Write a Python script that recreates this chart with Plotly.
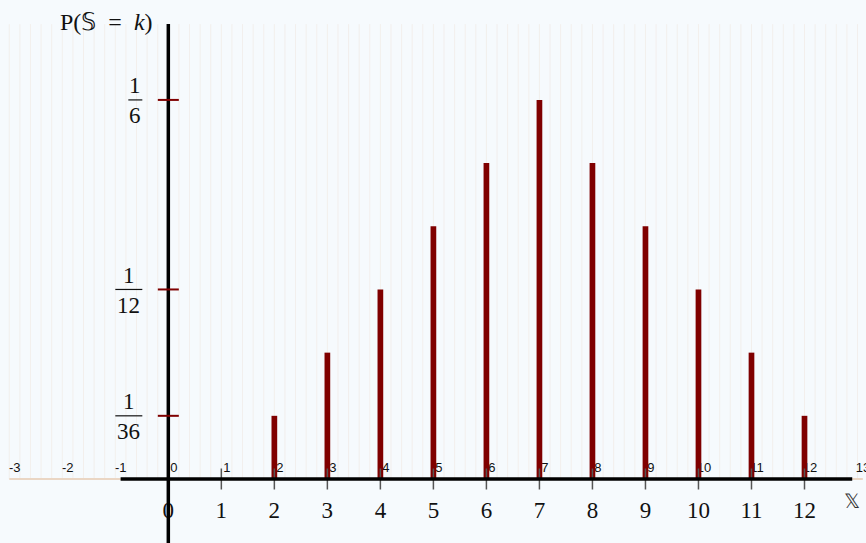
import plotly.graph_objects as go

# ---- data ----
k_values = [2, 3, 4, 5, 6, 7, 8, 9, 10, 11, 12]
probabilities = [1/36, 2/36, 3/36, 4/36, 5/36, 6/36, 5/36, 4/36, 3/36, 2/36, 1/36]
small_ticks = list(range(-3, 14))
big_ticks = list(range(0, 13))
y_tick_values = [1/36, 1/12, 1/6]
y_tick_num = ["1", "1", "1"]
y_tick_den = ["36", "12", "6"]

# ---- layout constants ----
W, H = 866, 543
XR = [-3.175, 13.16]
YR = [-0.02814, 0.2106]
PXX = W / (XR[1] - XR[0])
PXY = H / (YR[1] - YR[0])


def dx(px):
    return px / PXX


def dy(px):
    return px / PXY


BG = "#f6fafd"
RED = "#7f0000"
SERIF = "Liberation Serif, Times New Roman, serif"

fig = go.Figure()

# faint vertical grid (every 0.2 unit)
gx, gy = [], []
n = int(round((XR[1] + 3.2) / 0.2)) + 1
for i in range(n):
    xv = -3.2 + 0.2 * i
    gx += [xv, xv, None]
    gy += [0, 0.2, None]
fig.add_trace(go.Scatter(x=gx, y=gy, mode="lines",
                         line=dict(color="rgba(236,214,200,0.3)", width=1),
                         hoverinfo="skip", showlegend=False))

# tan full axis line
fig.add_trace(go.Scatter(x=[small_ticks[0], small_ticks[-1] + 0.1], y=[0, 0], mode="lines",
                         line=dict(color="#ead6c4", width=2), hoverinfo="skip", showlegend=False))

# small tick labels on axis
fig.add_trace(go.Scatter(x=[t + dx(5.5) for t in small_ticks], y=[dy(10)] * len(small_ticks),
                         mode="text", text=[str(t) for t in small_ticks],
                         textposition="middle center",
                         textfont=dict(family="Liberation Sans, Arial, sans-serif", size=13, color="#111"),
                         hoverinfo="skip", showlegend=False))

# big labels under axis
fig.add_trace(go.Scatter(x=big_ticks, y=[dy(-33)] * len(big_ticks), mode="text",
                         text=[str(t) for t in big_ticks], textposition="middle center",
                         textfont=dict(family=SERIF, size=23, color="#111"),
                         hoverinfo="skip", showlegend=False))

# bars (stems)
bx, by = [], []
for k, p in zip(k_values, probabilities):
    bx += [k, k, None]
    by += [0, p, None]
fig.add_trace(go.Scatter(x=bx, y=by, mode="lines", line=dict(color=RED, width=5.7),
                         hoverinfo="skip", showlegend=False))

# gray ticks on x axis
tx, ty = [], []
for t in big_ticks[1:]:
    tx += [t, t, None]
    ty += [dy(-10.5), dy(10.5), None]
fig.add_trace(go.Scatter(x=tx, y=ty, mode="lines", line=dict(color="#555", width=1.5),
                         hoverinfo="skip", showlegend=False))

# black axes
fig.add_trace(go.Scatter(x=[-0.9, 12.9], y=[0, 0], mode="lines",
                         line=dict(color="black", width=3.5), hoverinfo="skip", showlegend=False))
fig.add_trace(go.Scatter(x=[0, 0], y=[YR[0] - 0.01, 0.2], mode="lines",
                         line=dict(color="black", width=3.5), hoverinfo="skip", showlegend=False))

# red y ticks
rx, ry = [], []
for v in y_tick_values:
    rx += [dx(-10.5), dx(10.5), None]
    ry += [v, v, None]
fig.add_trace(go.Scatter(x=rx, y=ry, mode="lines", line=dict(color=RED, width=2),
                         hoverinfo="skip", showlegend=False))

annotations = []
shapes = []
for v, nu, de in zip(y_tick_values, y_tick_num, y_tick_den):
    w = 14 if len(de) == 1 else 27
    right = -26
    center = right - w / 2
    shapes.append(dict(type="line", xref="x", yref="y", xsizemode="pixel", xanchor=0,
                       x0=right - w, x1=right, y0=v, y1=v,
                       line=dict(color="#111", width=1.2)))
    annotations.append(dict(x=0, y=v, xref="x", yref="y", text=nu, showarrow=False,
                            xanchor="center", yanchor="middle", xshift=center, yshift=14,
                            font=dict(family=SERIF, size=23, color="#111")))
    annotations.append(dict(x=0, y=v, xref="x", yref="y", text=de, showarrow=False,
                            xanchor="center", yanchor="middle", xshift=center, yshift=-16,
                            font=dict(family=SERIF, size=23, color="#111")))

annotations.append(dict(x=0, y=1, xref="x", yref="paper", text="P(𝕊&nbsp; = &nbsp;<i>k</i>)",
                        showarrow=False, xanchor="right", yanchor="middle",
                        xshift=-13, yshift=-22,
                        font=dict(family=SERIF, size=24, color="#111")))
annotations.append(dict(x=12.9, y=0, xref="x", yref="y", text="𝕏",
                        showarrow=False, xanchor="center", yanchor="middle",
                        yshift=-22, font=dict(family=SERIF, size=20, color="#333")))

fig.update_layout(
    width=W, height=H,
    margin=dict(l=0, r=0, t=0, b=0),
    paper_bgcolor=BG, plot_bgcolor=BG,
    xaxis=dict(range=XR, visible=False, fixedrange=True),
    yaxis=dict(range=YR, visible=False, fixedrange=True),
    annotations=annotations, shapes=shapes,
    showlegend=False,
)

fig.write_html("out.html", config={"displayModeBar": False},
               post_script="document.body.style.margin='0';document.body.style.overflow='hidden';")
